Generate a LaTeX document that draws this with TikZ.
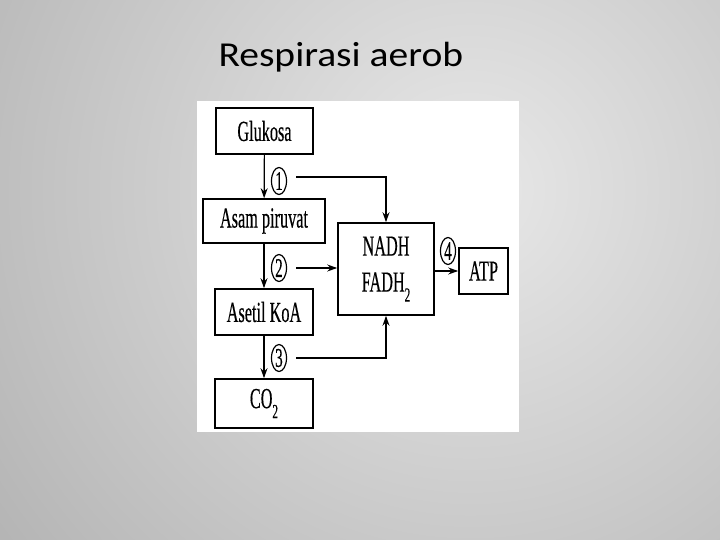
\documentclass[tikz,border=0pt]{standalone}
\usepackage{fontspec}
\usepackage{graphicx}
\setmainfont{Liberation Serif}
\newfontfamily\boxfont[FakeBold=0.5]{Liberation Serif}
\newfontfamily\titlefont{Carlito}
\usetikzlibrary{arrows.meta, positioning, shapes.geometric}
\tikzset{>={Stealth[length=10pt,width=7pt]}}
\newcommand{\narrow}[1]{\scalebox{0.56}[1]{#1}}
\newcommand{\sub}[1]{\raisebox{-10pt}{\fontsize{20}{20}\selectfont #1}}

\begin{document}
\begin{tikzpicture}[x=1pt, y=-1pt,
    box/.style={draw, line width=1.6pt, fill=white, inner sep=0pt,
        font=\boxfont\fontsize{29}{29}\selectfont},
    num/.style={draw, ellipse, line width=1.2pt, inner sep=0pt,
        minimum width=15pt, minimum height=27pt,
        font=\boxfont\fontsize{27}{27}\selectfont},
    link/.style={line width=1.3pt}]
        % slide background
        \useasboundingbox (0,0) rectangle (720,540);
        \begin{scope}
            \clip (0,0) rectangle (720,540);
            \shade[inner color=gray!18, outer color=gray!80] (470,190) circle (900pt);
        \end{scope}
        \node[font=\titlefont\fontsize{35}{35}\selectfont, anchor=base west] (title) at (215,67)
            {\scalebox{1.13}[1]{Respirasi aerob}};
        \fill[white] (197,101) rectangle (519,432);

        % boxes
        \node[box, minimum width=97pt, minimum height=46pt] (glu) at (264.5,131) {\narrow{Glukosa}};
        \node[box, minimum width=122pt, minimum height=44pt] (pyr) at (264,221) {\narrow{Asam piruvat}};
        \node[box, minimum width=98pt, minimum height=46pt] (aka) at (264,312) {\narrow{Asetil KoA}};
        \node[box, minimum width=98pt, minimum height=49pt] (co2) at (264,403.5) {\narrow{CO\sub{2}}};
        \node[box, minimum width=96pt, minimum height=92pt, align=center] (nadh) at (386,269)
            {\narrow{NADH}\\[7pt]\narrow{FADH\sub{2}}};
        \node[box, minimum width=49pt, minimum height=46pt] (atp) at (483.5,271) {\narrow{ATP}};

        % numbered steps
        \foreach \n/\y in {1/181, 2/268, 3/358}
        {
            \node[num] (c\n) at (279,\y) {\narrow{\n}};
        }
        \node[num] (c4) at (448,251) {\narrow{4}};

        % main chain
        \draw[->, line width=1.2pt] (glu) -- (pyr);
        \draw[->, line width=1.2pt] (pyr) -- (aka);
        \draw[->, line width=1.2pt] (aka) -- (co2);

        % side links
        \coordinate (s1) at (296,177);
        \coordinate (s2) at (296,268);
        \coordinate (s3) at (296,358);
        \draw[->, link] (s1) -| (nadh.north);
        \draw[->, link] (s2) -- (s2 -| nadh.west);
        \draw[->, link] (s3) -| (nadh.south);
        \draw[->, link] (nadh.east |- atp.west) -- (atp.west);
\end{tikzpicture}
\end{document}
